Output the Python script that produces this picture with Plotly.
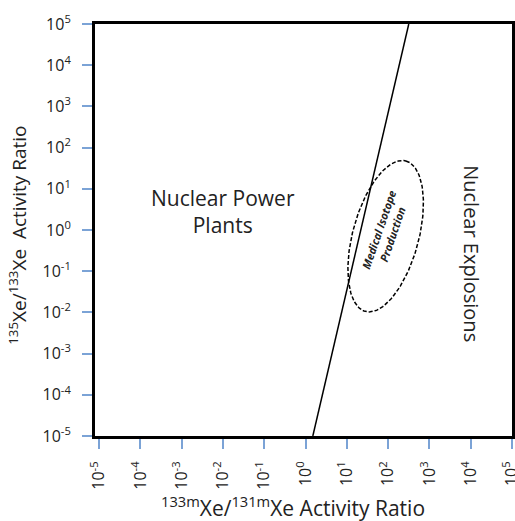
import numpy as np
import plotly.graph_objects as go

# ---- data ----
decade_exponents = list(range(-5, 6))
tick_text = [f"10<sup>{e}</sup>" for e in decade_exponents]
tick_vals = [10.0 ** e for e in decade_exponents]

# discrimination line (133mXe/131mXe vs 135Xe/133Xe)
boundary_x = [1.5, 316.0]
boundary_y = [1e-5, 1e5]

# medical isotope production region (ellipse in log10 space)
ellipse_center_log = (1.94, -0.15)
ellipse_semi_major = 1.89
ellipse_semi_minor = 0.80
ellipse_tilt_deg = 15.0

region_labels = ["Nuclear Power<br>Plants", "Nuclear Explosions", "Medical Isotope<br>Production"]

# ---- ellipse points ----
t = np.linspace(0, 2 * np.pi, 200)
th = np.radians(ellipse_tilt_deg)
u = (np.sin(th), np.cos(th))
v = (np.cos(th), -np.sin(th))
ex_log = ellipse_center_log[0] + ellipse_semi_major * np.cos(t) * u[0] + ellipse_semi_minor * np.sin(t) * v[0]
ey_log = ellipse_center_log[1] + ellipse_semi_major * np.cos(t) * u[1] + ellipse_semi_minor * np.sin(t) * v[1]

FONT = "Open Sans"
TICKC = "#7ba3d6"
TXT = "#222"

fig = go.Figure()
fig.add_trace(go.Scatter(x=boundary_x, y=boundary_y, mode="lines",
                         line=dict(color="black", width=1.5), hoverinfo="skip"))
fig.add_trace(go.Scatter(x=10 ** ex_log, y=10 ** ey_log, mode="lines",
                         line=dict(color="black", width=1.5, dash="4px,2px"), hoverinfo="skip"))

axis_common = dict(type="log", tickvals=tick_vals, ticktext=tick_text,
                   ticks="outside", ticklen=10, tickwidth=2, tickcolor=TICKC,
                   showgrid=False, zeroline=False, showline=True, mirror=True,
                   linecolor="black", linewidth=3, ticklabeloverflow="allow",
                   automargin=False,
                   tickfont=dict(family=FONT, size=16, color=TXT))

fig.update_xaxes(**axis_common, range=[-5.1, 5.0], tickangle=-90, ticklabelstandoff=6)
fig.update_yaxes(**axis_common, range=[-5, 5], ticklabelstandoff=8)

annotations = [
    dict(text="<sup>133m</sup>Xe/<sup>131m</sup>Xe Activity Ratio", xref="paper", yref="paper",
         x=0.475, y=-0.172, xanchor="center", yanchor="middle", showarrow=False,
         font=dict(family=FONT, size=21, color=TXT)),
    dict(text="<sup>135</sup>Xe/<sup>133</sup>Xe  Activity Ratio", xref="paper", yref="paper",
         x=-0.185, y=0.488, xanchor="center", yanchor="middle", textangle=-90, showarrow=False,
         font=dict(family=FONT, size=19, color=TXT)),
    dict(text=region_labels[0], x=-2.0, y=0.46, xref="x", yref="y", showarrow=False,
         xanchor="center", yanchor="middle", font=dict(family=FONT, size=21, color=TXT)),
    dict(text=region_labels[1], x=4.0, y=-0.58, xref="x", yref="y", showarrow=False, textangle=90,
         xanchor="center", yanchor="middle", font=dict(family=FONT, size=20, color=TXT)),
    dict(text="<b><i>" + region_labels[2] + "</i></b>", x=1.92, y=-0.05, xref="x", yref="y",
         showarrow=False, textangle=-71, xanchor="center", yanchor="middle",
         font=dict(family=FONT, size=11, color=TXT)),
]

fig.update_layout(width=515, height=521, margin=dict(l=95, r=3, t=24, b=85),
                  plot_bgcolor="white", paper_bgcolor="white", showlegend=False,
                  annotations=annotations)

fig.write_html("out.html")
